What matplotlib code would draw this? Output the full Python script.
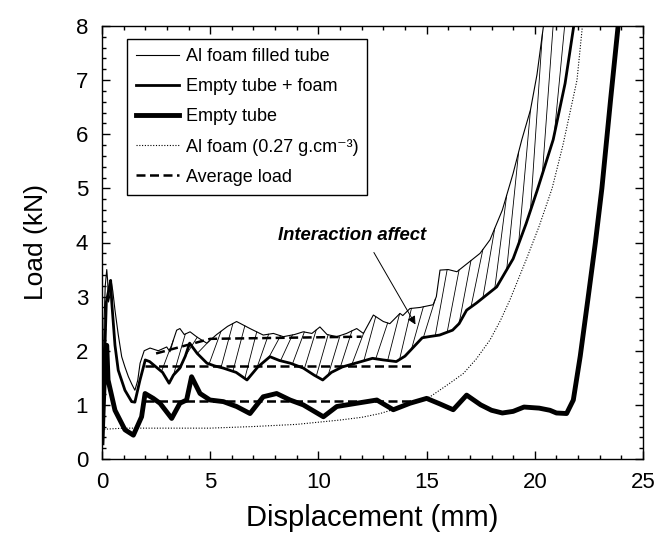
import numpy as np
import matplotlib
matplotlib.use("Agg")
import matplotlib.pyplot as plt
from matplotlib.ticker import MultipleLocator

plt.rcParams['font.family'] = ['Liberation Sans', 'DejaVu Sans']

# --- data -------------------------------------------------------------
filled_x = [0.0, 0.05, 0.1, 0.15, 0.22, 0.26, 0.3, 0.35, 0.42, 0.5, 0.6, 0.75, 0.91, 1.06, 1.22, 1.38, 1.52,
            1.65, 1.76, 1.95, 2.22, 2.6, 2.99, 3.14, 3.3, 3.45, 3.6, 3.8, 4.07, 4.4, 4.84, 5.3, 5.8, 6.22,
            6.84, 7.45, 7.92, 8.38, 8.9, 9.3, 9.7, 10.07, 10.4, 10.85, 11.3, 11.77, 12.08, 12.54, 13.0,
            13.3, 13.77, 13.9, 14.23, 14.7, 15.3, 15.45, 15.62, 16.0, 16.4, 17.0, 17.47, 17.93, 18.5,
            19.0, 19.4, 19.8, 20.1, 20.4, 20.5]
filled_y = [0.3, 1.4, 2.6, 3.2, 3.5, 3.3, 2.9, 3.0, 3.3, 3.1, 2.75, 2.3, 1.89, 1.7, 1.52, 1.38, 1.27,
            1.45, 1.77, 2.0, 2.05, 2.0, 2.07, 1.98, 2.2, 2.38, 2.41, 2.3, 2.35, 2.25, 2.14, 2.3, 2.45, 2.54,
            2.41, 2.29, 2.32, 2.26, 2.3, 2.35, 2.32, 2.44, 2.3, 2.26, 2.32, 2.41, 2.32, 2.66, 2.54,
            2.5, 2.69, 2.65, 2.78, 2.8, 2.85, 3.0, 3.49, 3.5, 3.46, 3.65, 3.8, 4.05, 4.6,
            5.28, 5.9, 6.45, 7.1, 8.0, 8.3]

tubefoam_x = [0.0, 0.1, 0.2, 0.3, 0.4, 0.45, 0.6, 0.75, 1.06, 1.37, 1.52, 1.75, 2.0, 2.2, 2.5, 2.8, 3.1,
              3.3, 3.6, 3.85, 4.05, 4.4, 4.85, 5.2, 5.6, 6.2, 6.7, 7.2, 7.76, 8.2, 8.7, 9.3, 9.8, 10.2,
              10.6, 11.1, 11.8, 12.5, 13.0, 13.6, 14.0, 14.4, 14.8, 15.1, 15.6, 16.2, 16.5, 16.85, 17.3,
              18.24, 19.0, 19.6, 20.1, 20.85, 21.4, 21.8, 21.9]
tubefoam_y = [0.4, 1.6, 2.9, 3.1, 3.3, 2.9, 2.1, 1.64, 1.27, 1.06, 1.05, 1.45, 1.83, 1.8, 1.7, 1.6, 1.4,
              1.55, 1.68, 1.9, 2.14, 1.95, 1.77, 1.72, 1.68, 1.6, 1.46, 1.7, 1.89, 1.82, 1.77, 1.68, 1.55, 1.46,
              1.6, 1.7, 1.78, 1.86, 1.83, 1.8, 1.9, 2.07, 2.24, 2.26, 2.29, 2.38, 2.5, 2.75, 2.88,
              3.18, 3.7, 4.35, 4.95, 5.9, 6.94, 8.0, 8.3]

tube_x = [0.0, 0.08, 0.15, 0.22, 0.28, 0.6, 1.06, 1.45, 1.83, 1.99, 2.37, 2.68, 3.22, 3.6, 3.91, 4.14,
          4.53, 4.99, 5.61, 6.22, 6.84, 7.45, 8.07, 8.69, 9.3, 10.23, 10.85, 11.77, 12.7, 13.46, 14.23,
          15.0, 15.6, 16.23, 16.85, 17.5, 18.0, 18.5, 19.0, 19.5, 20.2, 20.7, 21.0, 21.47, 21.78, 22.1,
          22.45, 22.8, 23.1, 23.5, 23.85, 23.95]
tube_y = [0.3, 1.2, 2.0, 2.1, 1.46, 0.9, 0.54, 0.44, 0.78, 1.21, 1.12, 1.03, 0.75, 1.03, 1.09, 1.52,
          1.21, 1.09, 1.06, 0.97, 0.84, 1.15, 1.21, 1.09, 1.0, 0.78, 0.97, 1.03, 1.09, 0.91, 1.03,
          1.12, 1.02, 0.91, 1.18, 1.0, 0.9, 0.85, 0.88, 0.96, 0.94, 0.9, 0.85, 0.84, 1.09, 1.9,
          2.94, 4.0, 5.0, 6.63, 8.0, 8.3]

foam_x = [0.1, 1.0, 3.0, 5.0, 7.0, 9.0, 10.0, 11.0, 12.0, 12.85, 14.0, 15.16, 16.0, 16.7, 17.3, 17.93,
          18.4, 18.85, 19.6, 20.2, 20.8, 21.3, 21.95, 22.2, 22.3]
foam_y = [0.55, 0.57, 0.57, 0.57, 0.6, 0.64, 0.68, 0.72, 0.77, 0.84, 0.98, 1.15, 1.38, 1.58, 1.85, 2.2,
          2.55, 2.94, 3.68, 4.3, 5.0, 5.8, 7.0, 8.0, 8.4]

avg_filled_x = [2.5, 5.0, 12.0]
avg_filled_y = [1.95, 2.22, 2.26]
avg_tubefoam_x = [2.0, 14.4]
avg_tubefoam_y = [1.71, 1.71]
avg_tube_x = [2.0, 14.4]
avg_tube_y = [1.07, 1.07]

labels = ["Al foam filled tube", "Empty tube + foam", "Empty tube",
          "Al foam (0.27 g.cm\u207b\u00b3)", "Average load"]

# --- figure -----------------------------------------------------------
fig = plt.figure(figsize=(6.56, 5.34), dpi=100)
ax = fig.add_axes([102/656, 1-459/534, 541/656, 433/534])

# hatching between filled tube (upper) and empty tube + foam (lower)
fx = np.array(filled_x); fy = np.array(filled_y)
tx = np.array(tubefoam_x); ty = np.array(tubefoam_y)
for x0 in np.arange(2.75, 21.0, 0.55):
    y0 = np.interp(x0, tx, ty)
    x1 = x0 + 0.55
    y1 = np.interp(x1, fx, fy)
    if y1 > y0 + 0.05:
        ax.plot([x0, x1], [y0, y1], color='black', lw=0.6)

dash = (0, (3.6, 1.8))
l1, = ax.plot(filled_x, filled_y, color='black', lw=0.8)
l2, = ax.plot(tubefoam_x, tubefoam_y, color='black', lw=2.0)
l3, = ax.plot(tube_x, tube_y, color='black', lw=3.5)
l4, = ax.plot(foam_x, foam_y, color='black', lw=0.8, ls=(0, (1, 1.5)))
l5, = ax.plot(avg_filled_x, avg_filled_y, color='black', lw=1.8, ls=dash)
ax.plot(avg_tubefoam_x, avg_tubefoam_y, color='black', lw=1.8, ls=dash)
ax.plot(avg_tube_x, avg_tube_y, color='black', lw=1.8, ls=dash)

ax.set_xlim(0, 25)
ax.set_ylim(0, 8)
ax.xaxis.set_major_locator(MultipleLocator(5))
ax.xaxis.set_minor_locator(MultipleLocator(1))
ax.yaxis.set_major_locator(MultipleLocator(1))
ax.yaxis.set_minor_locator(MultipleLocator(0.2))
ax.tick_params(which='both', direction='in', top=True, right=True, width=1, labelsize=16)
ax.tick_params(which='major', length=6)
ax.tick_params(which='minor', length=3)
ax.tick_params(axis='x', which='major', pad=9)
ax.tick_params(axis='y', which='major', pad=10)
for s in ax.spines.values():
    s.set_linewidth(1.0)

ax.set_xlabel("Displacement (mm)", fontsize=21, labelpad=8)
ax.set_ylabel("Load (kN)", fontsize=19, labelpad=20)

ax.text(11.55, 4.13, "Interaction affect", fontsize=13.3, fontweight='bold',
        fontstyle='italic', ha='center', va='center')
ax.annotate("", xy=(14.55, 2.44), xytext=(12.5, 3.86),
            arrowprops=dict(arrowstyle='-|>', lw=0.7, color='black', mutation_scale=12))

leg = ax.legend([l1, l2, l3, l4, l5], labels, loc='upper left',
                bbox_to_anchor=(25/541, 1-13/433), fontsize=13, frameon=True,
                fancybox=False, edgecolor='black', framealpha=1, handlelength=2.4,
                handletextpad=0.35, labelspacing=0.73, borderpad=0.5, borderaxespad=0)
leg.get_frame().set_linewidth(1.0)

fig.savefig("out.png", dpi=100)
